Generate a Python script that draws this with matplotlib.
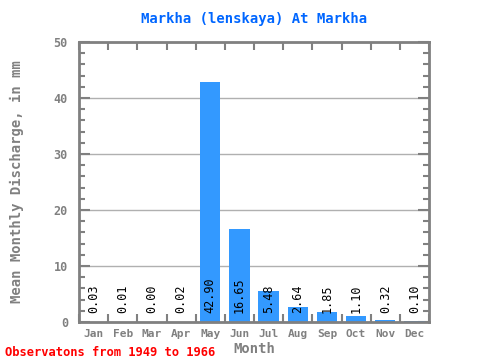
import matplotlib
matplotlib.use('Agg')
import matplotlib.pyplot as plt
import numpy as np

months = ['Jan', 'Feb', 'Mar', 'Apr', 'May', 'Jun', 'Jul', 'Aug', 'Sep', 'Oct', 'Nov', 'Dec']
discharge = [0.03, 0.01, 0.00, 0.02, 42.90, 16.65, 5.48, 2.64, 1.85, 1.10, 0.32, 0.10]

grey = '#808080'
mono = 'DejaVu Sans Mono'

fig = plt.figure(figsize=(4.8, 3.6), dpi=100)
ax = fig.add_axes([0.1646, 0.1056, 0.7292, 0.7778])

x = np.arange(len(months))
ax.bar(x, discharge, width=0.7, color='#3399ff', zorder=2)

for i, v in enumerate(discharge):
    ax.text(i, 1.6, '%.2f' % v, rotation=90, ha='center', va='bottom',
            fontsize=8.5, family=mono, color='black', zorder=3)

ax.set_xlim(-0.5, 11.5)
ax.set_ylim(0, 50)

ax.set_xticks(x)
ax.set_xticklabels(months)
ax.set_xticks(np.arange(-0.5, 12, 1), minor=True)
ax.tick_params(axis='x', which='major', length=0, pad=5, labelsize=8, labelcolor=grey)
ax.tick_params(axis='x', which='minor', direction='in', length=6, width=1.5,
               color=grey, top=True, bottom=True)

ax.set_yticks(np.arange(0, 51, 10))
ax.set_yticks(np.arange(0, 51, 2), minor=True)
ax.tick_params(axis='y', which='major', direction='in', length=8, width=1.5,
               color=grey, labelsize=8.5, labelcolor=grey, left=True, right=True, pad=8)
ax.tick_params(axis='y', which='minor', direction='in', length=4, width=1.5,
               color=grey, left=True, right=True)

for lbl in ax.get_xticklabels() + ax.get_yticklabels():
    lbl.set_family(mono)
    lbl.set_weight('bold')

ax.grid(axis='y', which='major', color='#b0b0b0', linewidth=1, zorder=1)

for s in ax.spines.values():
    s.set_color(grey)
    s.set_linewidth(2)

ax.set_title('Markha (lenskaya) At Markha', color='#0066ff', fontsize=10,
             family=mono, weight='bold', pad=14)
ax.set_xlabel('Month', color=grey, fontsize=10, family=mono, weight='bold')
ax.xaxis.set_label_coords(0.5, -0.07)
ax.set_ylabel('Mean Monthly Discharge, in mm', color=grey, fontsize=10,
              family=mono, weight='bold')
ax.yaxis.set_label_coords(-0.157, 0.5)

fig.text(0.01, 0.012, 'Observatons from 1949 to 1966', color='red', fontsize=8.7,
         family=mono, weight='bold')

fig.savefig('out.png', dpi=100)
